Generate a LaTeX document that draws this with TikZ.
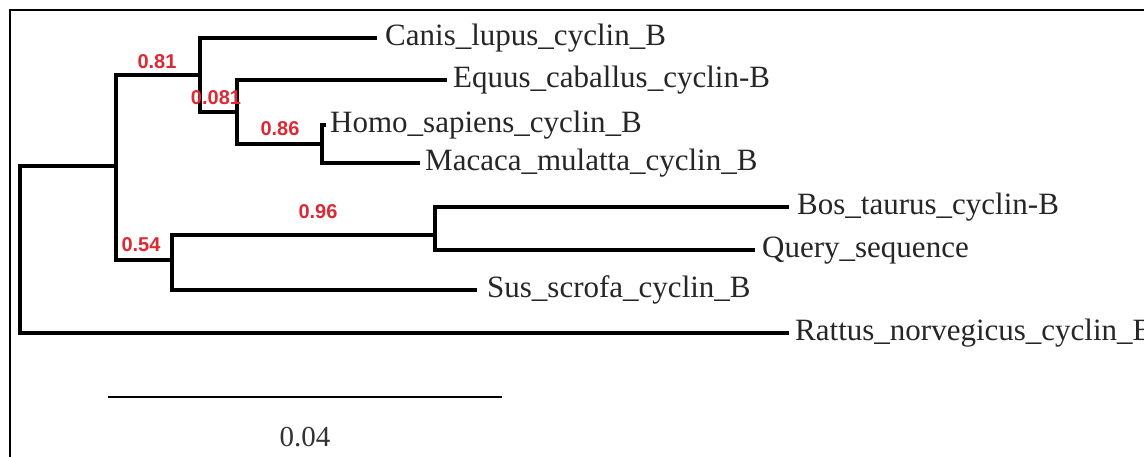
\documentclass[tikz,border=0pt]{standalone}
\usepackage{fontspec}
\setmainfont{Liberation Serif}
\newfontfamily\lsans{Liberation Sans}
\definecolor{bsred}{RGB}{222,40,52}
\tikzset{
  branch/.style={line width=3.2pt, line cap=rect},
  taxon/.style={anchor=base west, inner sep=0pt, font=\fontsize{31}{36}\selectfont, text=black!85},
  boot/.style={inner sep=0pt, font=\lsans\bfseries\fontsize{20}{23}\selectfont, text=bsred},
}
\begin{document}
\begin{tikzpicture}[x=1pt,y=-1pt]
\useasboundingbox (0,0) rectangle (1144,457);
\clip (0,0) rectangle (1144,457);
\fill[white] (0,0) rectangle (1144,457);
\draw[line width=2pt] (10,10) rectangle (1170,480);
% internal nodes
\coordinate (root) at (20,250);
\coordinate (A) at (116,166);
\coordinate (B) at (200,75);
\coordinate (C) at (237,112);
\coordinate (D) at (322,144);
\coordinate (E) at (172,260);
\coordinate (F) at (435,235);
% tips
\coordinate (canis) at (375,38);
\coordinate (equus) at (445,80);
\coordinate (homo) at (324,125);
\coordinate (macaca) at (418,163);
\coordinate (bos) at (787,207);
\coordinate (query) at (753,250);
\coordinate (sus) at (475,290);
\coordinate (rattus) at (787,333);
% branches
\draw[branch] (root) |- (A);
\draw[branch] (root) |- (rattus);
\draw[branch] (A) |- (B);
\draw[branch] (A) |- (E);
\draw[branch] (B) |- (canis);
\draw[branch] (B) |- (C);
\draw[branch] (C) |- (equus);
\draw[branch] (C) |- (D);
\draw[branch] (D) |- (homo);
\draw[branch] (D) |- (macaca);
\draw[branch] (E) |- (F);
\draw[branch] (E) |- (sus);
\draw[branch] (F) |- (bos);
\draw[branch] (F) |- (query);
% taxon labels
\node[taxon] (canisL) at ([xshift=10pt,yshift=-8pt]canis) {Canis\_lupus\_cyclin\_B};
\node[taxon] (equusL) at ([xshift=8pt,yshift=-8pt]equus) {Equus\_caballus\_cyclin-B};
\node[taxon] (homoL) at ([xshift=6pt,yshift=-8pt]homo) {Homo\_sapiens\_cyclin\_B};
\node[taxon] (macacaL) at ([xshift=7pt,yshift=-8pt]macaca) {Macaca\_mulatta\_cyclin\_B};
\node[taxon] (bosL) at ([xshift=10pt,yshift=-8pt]bos) {Bos\_taurus\_cyclin-B};
\node[taxon] (queryL) at ([xshift=9pt,yshift=-8pt]query) {Query\_sequence};
\node[taxon] (susL) at ([xshift=12pt,yshift=-8pt]sus) {Sus\_scrofa\_cyclin\_B};
\node[taxon] (rattusL) at ([xshift=8pt,yshift=-8pt]rattus) {Rattus\_norvegicus\_cyclin\_B};
% bootstrap values
\node[boot] (bA) at (157,62) {0.81};
\node[boot] (bC) at (216,98) {0.081};
\node[boot] (bD) at (280,129) {0.86};
\node[boot] (bE) at (141,245) {0.54};
\node[boot] (bF) at (318,212) {0.96};
% scale bar
\coordinate (s1) at (108,397);
\coordinate (s2) at (502,397);
\draw[line width=2pt] (s1) -- (s2);
\node[inner sep=0pt, font=\fontsize{29}{34}\selectfont, text=black!80] (scaleL) at (305,437) {0.04};
\end{tikzpicture}
\end{document}
